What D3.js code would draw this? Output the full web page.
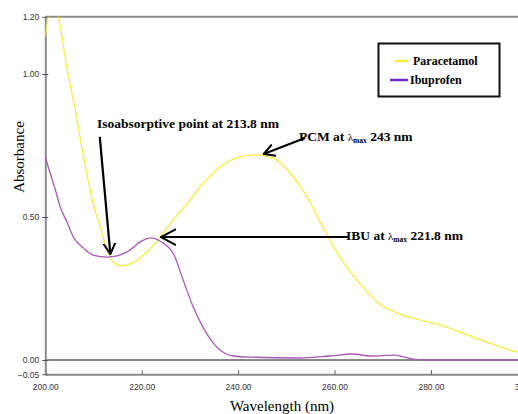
<!DOCTYPE html>
<html>
<head>
<meta charset="utf-8">
<script src="https://cdn.jsdelivr.net/npm/d3@7"></script>
<style>
  body { margin: 0; background: #fff; overflow: hidden; }
  svg { display: block; }
  .serif { font-family: "Liberation Serif", "Times New Roman", Times, "DejaVu Serif", "Noto Serif", serif; }
</style>
</head>
<body>
<svg id="chart"></svg>
<script>
// wavelength (nm) and absorbance
const pcmWave = [200, 200.6, 201.6, 202.7, 204.5, 206.6, 207.3, 208.6, 209.9, 211.4, 212.8, 214.1, 215.9, 217.6, 219.7, 222.4, 225.5, 230, 232.1, 236.3, 240.4, 243.9, 247.3, 250.8, 254.3, 257.6, 261.1, 263.2, 265.9, 268.8, 273, 277.1, 281.2, 286.6, 292.2, 297.8, 300];
const pcmAbs  = [1.13, 1.20, 1.25, 1.20, 1.02, 0.84, 0.77, 0.654, 0.549, 0.465, 0.385, 0.343, 0.329, 0.336, 0.357, 0.40, 0.468, 0.559, 0.605, 0.675, 0.71, 0.717, 0.706, 0.654, 0.57, 0.465, 0.36, 0.311, 0.255, 0.203, 0.164, 0.143, 0.126, 0.094, 0.059, 0.028, 0.02];
const ibuWave = [200, 201, 202.1, 203.1, 204.6, 205.8, 207.9, 209.9, 212.8, 214.9, 217.6, 219.7, 221.8, 223.8, 225.5, 226.5, 228.6, 230.7, 232.7, 235.6, 239, 242.5, 252.8, 259, 263.8, 267.4, 272.5, 276.3, 279.8, 300];
const ibuAbs  = [0.71, 0.654, 0.594, 0.535, 0.479, 0.43, 0.392, 0.367, 0.36, 0.364, 0.385, 0.413, 0.427, 0.416, 0.395, 0.374, 0.28, 0.185, 0.115, 0.045, 0.014, 0.01, 0.007, 0.014, 0.021, 0.014, 0.017, 0.003, 0, 0];
const xTicks = [200, 220, 240, 260, 280, 300];
const yTicks = [-0.05, 0, 0.5, 1.0, 1.2];
const seriesNames = ['Paracetamol', 'Ibuprofen'];

const width = 518, height = 414;
const svg = d3.select('#chart').attr('width', width).attr('height', height);

const x = d3.scaleLinear().domain([200, 300]).range([45.3, 527.3]);
const y = d3.scaleLinear().domain([-0.05, 1.2]).range([374.3, 16.8]);

const axisColor = '#8a8a8a';
const sans = "'Liberation Sans', Arial, sans-serif";

// clip for the curves
svg.append('clipPath').attr('id', 'plot')
  .append('rect')
  .attr('x', x(200)).attr('y', y(1.2))
  .attr('width', x(300) - x(200)).attr('height', y(-0.05) - y(1.2));

// frame: top line and zero line
svg.append('line')
  .attr('x1', x(200)).attr('x2', x(300))
  .attr('y1', y(1.2)).attr('y2', y(1.2))
  .attr('stroke', axisColor).attr('stroke-width', 2);
svg.append('line')
  .attr('x1', x(200)).attr('x2', x(300))
  .attr('y1', y(0)).attr('y2', y(0))
  .attr('stroke', axisColor).attr('stroke-width', 2);

// axes
const xAxis = svg.append('g')
  .attr('transform', `translate(0,${y(-0.05)})`)
  .call(d3.axisBottom(x).tickValues(xTicks).tickFormat(d3.format('.2f'))
        .tickSizeInner(-4).tickSizeOuter(0).tickPadding(10));
const yAxis = svg.append('g')
  .attr('transform', `translate(${x(200)},0)`)
  .call(d3.axisLeft(y).tickValues(yTicks).tickFormat(d3.format('.2f'))
        .tickSizeInner(3).tickSizeOuter(0).tickPadding(3));

[xAxis, yAxis].forEach(g => {
  g.select('.domain').attr('stroke', axisColor).attr('stroke-width', 2);
  g.selectAll('.tick line').attr('stroke', '#555');
  g.selectAll('.tick text')
    .attr('fill', '#333')
    .attr('font-family', sans)
    .attr('font-size', 8.5);
});
yAxis.selectAll('.tick line').attr('x2', 3).attr('x1', -3);

// curves
const line = d3.line().x(d => x(d[0])).y(d => y(d[1])).curve(d3.curveMonotoneX);
const curves = svg.append('g').attr('clip-path', 'url(#plot)');
curves.append('path')
  .datum(d3.zip(pcmWave, pcmAbs))
  .attr('fill', 'none').attr('stroke', '#f2ee40').attr('stroke-width', 1.3)
  .attr('d', line);
curves.append('path')
  .datum(d3.zip(ibuWave, ibuAbs))
  .attr('fill', 'none').attr('stroke', '#a85ab4').attr('stroke-width', 1.3)
  .attr('d', line);

// axis titles
svg.append('text')
  .attr('class', 'serif')
  .attr('x', 282).attr('y', 411)
  .attr('text-anchor', 'middle')
  .attr('font-size', 15)
  .text('Wavelength (nm)');
svg.append('text')
  .attr('class', 'serif')
  .attr('transform', 'translate(24,157) rotate(-90)')
  .attr('text-anchor', 'middle')
  .attr('font-size', 15)
  .text('Absorbance');

// legend
const legend = svg.append('g');
legend.append('rect')
  .attr('x', 378.5).attr('y', 43.5).attr('width', 121).attr('height', 53)
  .attr('fill', '#fff').attr('stroke', '#111').attr('stroke-width', 2);
const legendColors = ['#f2ee40', '#6a2ccc'];
seriesNames.forEach((name, i) => {
  const ly = 61 + i * 19;
  legend.append('line')
    .attr('x1', i === 0 ? 395 : 390).attr('x2', 408)
    .attr('y1', ly).attr('y2', ly)
    .attr('stroke', legendColors[i]).attr('stroke-width', 2.5);
  legend.append('text')
    .attr('class', 'serif')
    .attr('x', i === 0 ? 413 : 410).attr('y', ly + 4)
    .attr('font-size', 12).attr('font-weight', 'bold')
    .text(name);
});

// annotation arrows
const defs = svg.append('defs');
defs.append('marker')
  .attr('id', 'chev').attr('viewBox', '0 -7 12 14')
  .attr('refX', 11).attr('refY', 0)
  .attr('markerWidth', 12).attr('markerHeight', 14)
  .attr('markerUnits', 'userSpaceOnUse')
  .attr('orient', 'auto')
  .append('path').attr('d', 'M0,-6 L11,0 L0,6')
  .attr('fill', 'none').attr('stroke', '#000').attr('stroke-width', 2);
defs.append('marker')
  .attr('id', 'chevBig').attr('viewBox', '0 -9 16 18')
  .attr('refX', 15).attr('refY', 0)
  .attr('markerWidth', 16).attr('markerHeight', 18)
  .attr('markerUnits', 'userSpaceOnUse')
  .attr('orient', 'auto')
  .append('path').attr('d', 'M0,-8 L15,0 L0,8')
  .attr('fill', 'none').attr('stroke', '#000').attr('stroke-width', 2);

const arrows = [
  { from: [211.3, 0.78], to: [213.5, 0.37], marker: 'chev' },
  { from: [253.9, 0.776], to: [245.3, 0.72], marker: 'chev' },
  { from: [262.8, 0.43], to: [224.0, 0.43], marker: 'chevBig' }
];
arrows.forEach(a => {
  svg.append('line')
    .attr('x1', x(a.from[0])).attr('y1', y(a.from[1]))
    .attr('x2', x(a.to[0])).attr('y2', y(a.to[1]))
    .attr('stroke', '#000').attr('stroke-width', 2.2)
    .attr('marker-end', `url(#${a.marker})`);
});

function note(tx, ty, pre, post) {
  const t = svg.append('text')
    .attr('class', 'serif')
    .attr('x', tx).attr('y', ty)
    .attr('font-size', 13.5).attr('font-weight', 'bold');
  t.append('tspan').text(pre);
  if (post !== undefined) {
    t.append('tspan').attr('font-size', 11).attr('font-weight', 'normal').text('λ');
    t.append('tspan').attr('font-size', 7.5).attr('dy', 2).text('max');
    t.append('tspan').attr('dy', -2).text(post);
  }
}
note(97, 128, 'Isoabsorptive point at 213.8 nm');
note(299, 141, 'PCM at  ', ' 243 nm');
note(346, 240, 'IBU at  ', ' 221.8 nm');
</script>
</body>
</html>
